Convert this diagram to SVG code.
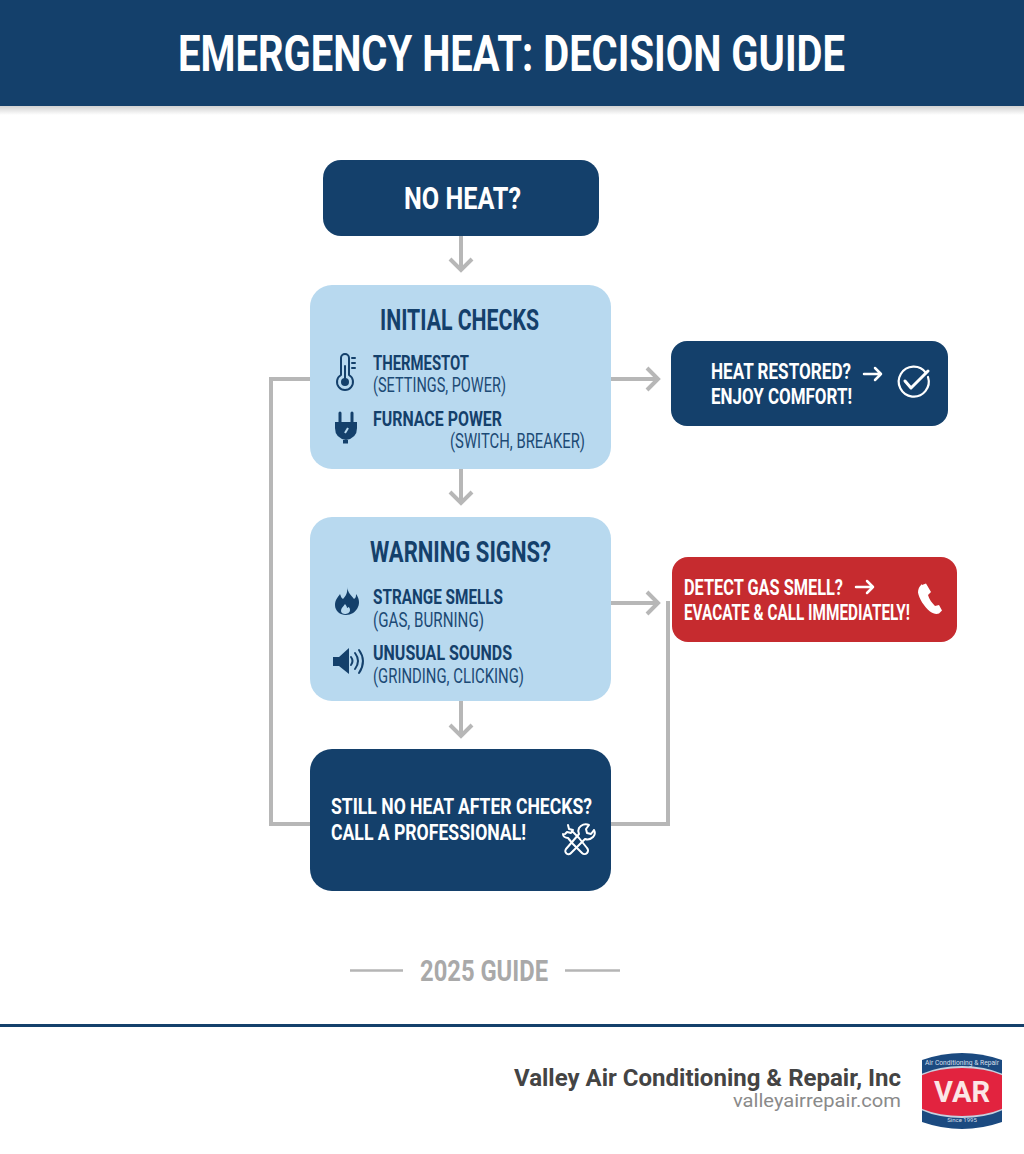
<svg xmlns="http://www.w3.org/2000/svg" width="1024" height="1154" viewBox="0 0 1024 1154">
<style>
text{font-family:Roboto,"Liberation Sans",sans-serif}
.h{font-weight:700;fill:#fff}
.d{font-weight:700;fill:#14406b}
.r{font-weight:400;fill:#1c4a75}
.w{font-weight:700;fill:#fff}
.navy{fill:#14406b}
.light{fill:#b8d9ef}
.conn{fill:none;stroke:#b7b7b7;stroke-width:4}
.ws{fill:none;stroke:#fff;stroke-linecap:round;stroke-linejoin:round}
.ns{fill:none;stroke:#14406b;stroke-linecap:round;stroke-linejoin:round}
.g{fill:#14406b}
</style>
<defs>
<linearGradient id="sh" x1="0" y1="0" x2="0" y2="1"><stop offset="0" stop-color="#000" stop-opacity=".18"/><stop offset="1" stop-color="#000" stop-opacity="0"/></linearGradient>
<clipPath id="lc"><rect x="922" y="1052" width="80" height="80"/></clipPath>
</defs>
<rect width="1024" height="1154" fill="#fff"/>
<g id="header">
<rect y="106" width="1024" height="9" fill="url(#sh)"/>
<rect width="1024" height="106" class="navy"/>
<text class="h" x="178" y="71" font-size="50" textLength="667" lengthAdjust="spacingAndGlyphs">EMERGENCY HEAT: DECISION GUIDE</text>
</g>
<g id="connectors">
<path class="conn" d="M461 236V270M450 259L461 270L472 259"/>
<path class="conn" d="M461 469V503M450 492L461 503L472 492"/>
<path class="conn" d="M461 701V736M450 725L461 736L472 725"/>
<path class="conn" d="M611 379H658M647 368L658 379L647 390"/>
<path class="conn" d="M611 603H658M647 592L658 603L647 614"/>
<path class="conn" d="M312 824H271V379H312"/>
<path class="conn" d="M609 824H668V601"/>
</g>
<g id="no-heat">
<rect x="323" y="160" width="276" height="76" rx="18" class="navy"/>
<text class="w" x="404" y="209" font-size="32" textLength="117" lengthAdjust="spacingAndGlyphs">NO HEAT?</text>
</g>
<g id="initial-checks">
<rect x="310" y="285" width="301" height="184" rx="22" class="light"/>
<text class="d" x="380" y="330" font-size="29" textLength="159" lengthAdjust="spacingAndGlyphs">INITIAL CHECKS</text>
<g id="icon-thermometer">
<path class="ns" stroke-width="2" d="M341 358a4 4 0 0 1 8 0v17a8 8 0 1 1-8 0z"/>
<circle cx="345" cy="382" r="4" class="g"/><path class="ns" stroke-width="2" d="M345 366v14M352 358h3M352 363h3M352 368h3"/>
</g>
<text class="d" x="373" y="370" font-size="20" textLength="96" lengthAdjust="spacingAndGlyphs">THERMESTOT</text>
<text class="r" x="373" y="392" font-size="20" textLength="133" lengthAdjust="spacingAndGlyphs">(SETTINGS, POWER)</text>
<g id="icon-plug">
<path class="ns" stroke-width="3" d="M340 413v10M352 413v10"/>
<path class="g" d="M335 422h22v6q0 10-11 12q-11-2-11-12z"/><rect x="343" y="440" width="5" height="3.500" class="g"/>
<path d="M345 433l3-5" stroke="#b8d9ef" stroke-width="2"/>
</g>
<text class="d" x="373" y="426" font-size="20" textLength="129" lengthAdjust="spacingAndGlyphs">FURNACE POWER</text>
<text class="r" x="450" y="448" font-size="20" textLength="135" lengthAdjust="spacingAndGlyphs">(SWITCH, BREAKER)</text>
</g>
<g id="warning-signs">
<rect x="310" y="517" width="301" height="184" rx="22" class="light"/>
<text class="d" x="370" y="562" font-size="30" textLength="181" lengthAdjust="spacingAndGlyphs">WARNING SIGNS?</text>
<g id="icon-flame">
<path class="g" fill-rule="evenodd" d="M347 587c1 6 4 8 7 12c2-1 2-3 2-5c3 4 4 9 2 13c-2 5-7 8-12 8c-6 0-11-4-11-10c0-5 3-8 5-11c1 2 1 4 3 5c3-3 5-7 4-12zM345 604c-2 3-4 4-4 7c0 2 2 3 4 3s5-1 5-4c0-2-1-3-2-3c0 1-1 1-1 1c0-1-1-3-2-4z"/>
</g>
<text class="d" x="373" y="604" font-size="20" textLength="130" lengthAdjust="spacingAndGlyphs">STRANGE SMELLS</text>
<text class="r" x="373" y="627" font-size="20" textLength="111" lengthAdjust="spacingAndGlyphs">(GAS, BURNING)</text>
<g id="icon-speaker">
<path class="g" d="M333 657h6l10-9v26l-10-8h-6z"/>
<path class="ns" stroke-width="2" d="M351 657q3 4 0 8M355 653q6 8 0 16M359 650q8 11 0 23"/>
</g>
<text class="d" x="373" y="660" font-size="20" textLength="139" lengthAdjust="spacingAndGlyphs">UNUSUAL SOUNDS</text>
<text class="r" x="373" y="683" font-size="20" textLength="151" lengthAdjust="spacingAndGlyphs">(GRINDING, CLICKING)</text>
</g>
<g id="call-professional">
<rect x="310" y="749" width="301" height="142" rx="22" class="navy"/>
<text class="w" x="331" y="814" font-size="22" textLength="261" lengthAdjust="spacingAndGlyphs">STILL NO HEAT AFTER CHECKS?</text>
<text class="w" x="331" y="840" font-size="22" textLength="195" lengthAdjust="spacingAndGlyphs">CALL A PROFESSIONAL!</text>
<g id="icon-tools" stroke-width="2">
<path class="ws" d="M594 830l-3 4l-4-1l-1-4l3-4c-4-2-8 0-10 3c-1 2-1 4 0 6l-13 15a3 3 0 0 0 5 4l14-14c3 1 6 0 8-2c2-2 2-5 1-7z"/>
<path class="ws" d="M568 825l1 4l4 1l-2 3l-4-1l-2 2M572 831l7 7l8 10a3 3 0 0 1-5 5l-9-9l-5-6c-3 0-5-2-5-4"/>
</g>
</g>
<g id="heat-restored">
<rect x="671" y="341" width="277" height="85" rx="16" class="navy"/>
<text class="w" x="711" y="379" font-size="22" textLength="140" lengthAdjust="spacingAndGlyphs">HEAT RESTORED?</text>
<text class="w" x="711" y="404" font-size="22" textLength="141" lengthAdjust="spacingAndGlyphs">ENJOY COMFORT!</text>
<path class="ws" stroke-width="2.500" d="M864 374H881M875 368L881 374L875 380"/>
<g id="icon-check">
<path class="ws" stroke-width="2.200" d="M926 373a15 15 0 1 0 2 4"/>
<path class="ws" stroke-width="3" d="M905 381L911 388L928 371"/>
</g>
</g>
<g id="gas-smell">
<rect x="672" y="557" width="285" height="85" rx="16" fill="#c62b2f"/>
<text class="w" x="684" y="595" font-size="22" textLength="159" lengthAdjust="spacingAndGlyphs">DETECT GAS SMELL?</text>
<text class="w" x="684" y="620" font-size="22" textLength="226" lengthAdjust="spacingAndGlyphs">EVACATE &amp; CALL IMMEDIATELY!</text>
<path class="ws" stroke-width="2.500" d="M856 587H873M867 581L873 587L867 593"/>
<path id="icon-phone" fill="#fff" d="M922 585l4-1.500l5 8.500l-3 3c1 4 4 8 7 11l4-1l3 5.500l-3 3c-3 1-6 0-9-2c-6-5-11-13-12-19c0-3 1-6 4-8.500z"/>
</g>
<g id="guide-label">
<path d="M350 970.500H403M565 970.500H620" stroke="#b5b5b5" stroke-width="2.500" fill="none"/>
<text x="420" y="981" font-size="29" font-weight="700" fill="#a9a9a9" textLength="128" lengthAdjust="spacingAndGlyphs">2025 GUIDE</text>
</g>
<g id="footer">
<rect y="1024" width="1024" height="3" class="navy"/>
<text x="514" y="1086" font-size="24" font-weight="700" fill="#444" textLength="387" lengthAdjust="spacingAndGlyphs">Valley Air Conditioning &amp; Repair, Inc</text>
<text x="733" y="1107" font-size="19" fill="#8a8a8a" textLength="168" lengthAdjust="spacingAndGlyphs">valleyairrepair.com</text>
<g id="logo" clip-path="url(#lc)">
<path d="M922 1060q40-14 80 0v62q-40 14-80 0z" fill="#1b4a80"/>
<ellipse cx="962" cy="1092" rx="56" ry="26" fill="#fff" opacity=".75"/>
<ellipse cx="962" cy="1092" rx="56" ry="24" fill="#e2233f"/>
<text x="962" y="1102" font-size="30" font-weight="700" fill="#fbe6e6" text-anchor="middle" font-family="Liberation Serif,serif" textLength="56" lengthAdjust="spacingAndGlyphs">VAR</text>
<text x="962" y="1065" font-size="7" fill="#d5dfea" text-anchor="middle" textLength="74" lengthAdjust="spacingAndGlyphs">Air Conditioning &amp; Repair</text>
<text x="962" y="1122" font-size="6" fill="#d5dfea" text-anchor="middle">Since 1995</text>
</g>
</g>
</svg>
